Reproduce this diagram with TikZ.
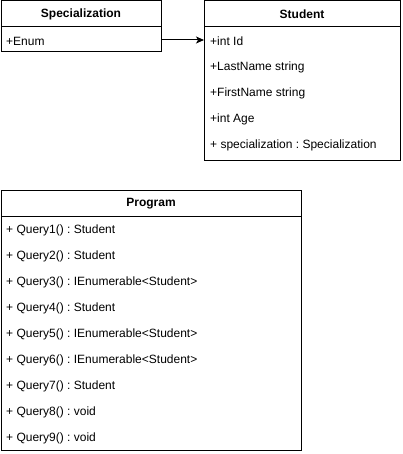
\documentclass[tikz,border=0pt]{standalone}
\usepackage{fontspec}
\setmainfont{Liberation Sans}
\usetikzlibrary{arrows.meta}
\frenchspacing
\begin{document}
\begin{tikzpicture}[x=1pt,y=-1pt,
  box/.style={draw, line width=1pt, inner sep=0pt, outer sep=0pt, anchor=north west},
  title/.style={font=\fontsize{12}{14}\selectfont\bfseries, inner sep=0pt},
  attr/.style={font=\fontsize{12}{14}\selectfont, inner sep=0pt, anchor=west},
  divider/.style={line width=1pt},
  link/.style={line width=1pt, -{Stealth[length=8pt,width=7pt,inset=2pt]}}]
\useasboundingbox (0,0) rectangle (402,454);
% Specialization
\node[box, minimum width=160pt, minimum height=51pt] (spec) at (1,1) {};
\draw[divider] (1,27) -- (161,27);
\node[title] (spect) at (81,14.5) {Specialization};
\node[attr] (enum) at (6,41) {+Enum};
% Student
\node[box, minimum width=196pt, minimum height=160pt] (student) at (204,1) {};
\draw[divider] (204,27) -- (400,27);
\node[title] (studt) at (302,14.5) {Student};
\node[attr] (s1) at (210,41) {+int Id};
\node[attr] (s2) at (210,67) {+LastName string};
\node[attr] (s3) at (210,93) {+FirstName string};
\node[attr] (s4) at (210,119) {+int Age};
\node[attr] (s5) at (210,145) {+ specialization : Specialization};
% Program
\node[box, minimum width=300pt, minimum height=260pt] (prog) at (1,190) {};
\draw[divider] (1,216) -- (301,216);
\node[title] (progt) at (151,203.5) {Program};
\node[attr] (q1) at (6,230) {+ Query1() : Student};
\node[attr] (q2) at (6,256) {+ Query2() : Student};
\node[attr] (q3) at (6,282) {+ Query3() : IEnumerable<Student>};
\node[attr] (q4) at (6,308) {+ Query4() : Student};
\node[attr] (q5) at (6,334) {+ Query5() : IEnumerable<Student>};
\node[attr] (q6) at (6,360) {+ Query6() : IEnumerable<Student>};
\node[attr] (q7) at (6,386) {+ Query7() : Student};
\node[attr] (q8) at (6,412) {+ Query8() : void};
\node[attr] (q9) at (6,438) {+ Query9() : void};
% connector
\coordinate (arry) at (0,40);
\draw[link] (spec.east |- arry) -- (student.west |- arry);
\end{tikzpicture}
\end{document}
